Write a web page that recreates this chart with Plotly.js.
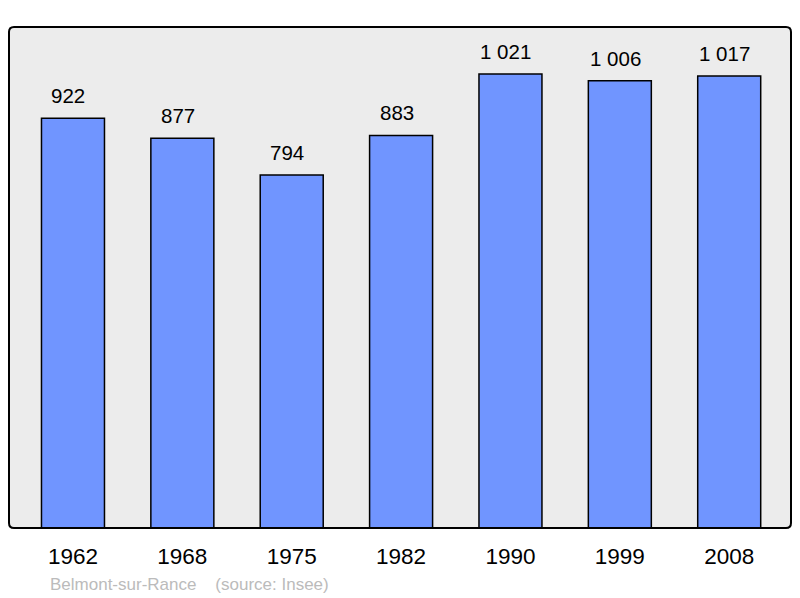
<!DOCTYPE html>
<html>
<head>
<meta charset="utf-8">
<script src="https://cdn.plot.ly/plotly-3.0.1.min.js"></script>
<style>html,body{margin:0;padding:0;background:#fff;}#chart{width:800px;height:598px;}</style>
</head>
<body>
<div id="chart"></div>
<script>
var years = ["1962", "1968", "1975", "1982", "1990", "1999", "2008"];
var population = [922, 877, 794, 883, 1021, 1006, 1017];
var valueLabels = ["922", "877", "794", "883", "1 021", "1 006", "1 017"];
var footer = "Belmont-sur-Rance &nbsp;&nbsp;&nbsp;(source: Insee)";

var font = "Liberation Sans, Arial, sans-serif";

var trace = {
  type: "bar",
  x: years,
  y: population,
  width: 0.576,
  marker: {color: "#7095ff", line: {color: "#000", width: 1.5}},
  hoverinfo: "none"
};

var annotations = years.map(function (yr, i) {
  return {
    x: i, y: population[i], xref: "x", yref: "y",
    text: valueLabels[i], showarrow: false,
    yanchor: "bottom", yshift: 9, xshift: -4.5,
    font: {family: font, size: 20.5, color: "#000"}
  };
});
annotations.push({
  xref: "paper", yref: "paper", x: 0.0505, y: -0.112,
  xanchor: "left", yanchor: "middle", showarrow: false,
  text: footer, font: {family: font, size: 17, color: "#bbbbbb"}
});

var rx = 5 / 782, ry = 5 / 501;
var path = "M " + rx + " 0 L " + (1 - rx) + " 0 Q 1 0 1 " + ry +
  " L 1 " + (1 - ry) + " Q 1 1 " + (1 - rx) + " 1 L " + rx + " 1 Q 0 1 0 " + (1 - ry) +
  " L 0 " + ry + " Q 0 0 " + rx + " 0 Z";

var layout = {
  width: 800, height: 598,
  margin: {l: 9, r: 9, t: 27, b: 70},
  paper_bgcolor: "#ffffff",
  plot_bgcolor: "#ececec",
  showlegend: false,
  xaxis: {
    type: "category", range: [-0.585, 6.565],
    showgrid: false, zeroline: false, showline: false, ticks: "",
    ticklabelstandoff: 12,
    tickfont: {family: font, size: 22.5, color: "#000"}
  },
  yaxis: {
    range: [0, 1127], showgrid: false, zeroline: false, showline: false,
    showticklabels: false, ticks: ""
  },
  shapes: [{
    type: "path", xref: "paper", yref: "paper", path: path,
    line: {color: "#000", width: 2}, fillcolor: "rgba(0,0,0,0)", layer: "above"
  }],
  annotations: annotations
};

Plotly.newPlot("chart", [trace], layout, {staticPlot: true, displayModeBar: false});
</script>
</body>
</html>
